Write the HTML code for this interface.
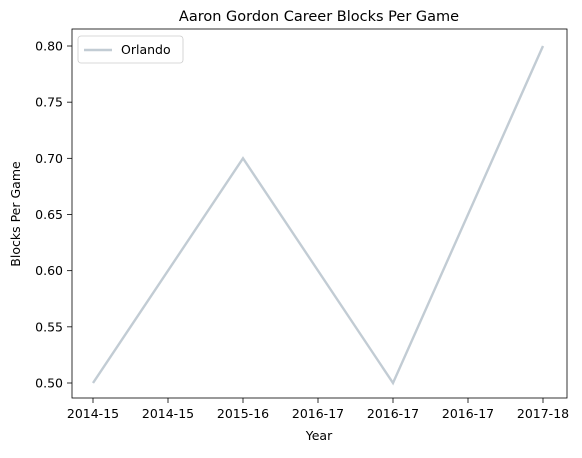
<!DOCTYPE html>
<html><head><meta charset="utf-8"><style>
body{margin:0;background:#fff;font-family:"Liberation Sans","DejaVu Sans",sans-serif;}
svg text{font-family:"DejaVu Sans","Liberation Sans",sans-serif;}
</style></head><body>
<svg id="chart" width="582" height="453" xmlns="http://www.w3.org/2000/svg">
<rect width="582" height="453" fill="#fff"/>
<text x="319" y="21" font-size="14.5" text-anchor="middle">Aaron Gordon Career Blocks Per Game</text>
<g id="ticks"></g>
<polyline id="series" fill="none" stroke="#c2ccd4" stroke-width="2.4"/>
<rect x="72" y="29" width="495" height="369" fill="none" stroke="#000" stroke-width="0.8"/>
<text x="319" y="440" font-size="12.5" text-anchor="middle">Year</text>
<text transform="translate(20,214) rotate(-90)" font-size="12.5" text-anchor="middle">Blocks Per Game</text>
<g>
<rect x="78" y="36" width="105" height="27" rx="3" fill="#fff" stroke="#ccc" stroke-width="0.8"/>
<line x1="84" y1="50" x2="112" y2="50" stroke="#c2ccd4" stroke-width="2.4"/>
<text x="121" y="54" font-size="12.5">Orlando</text>
</g>
</svg>
<script>
const xIndex=[0,1,2,3];
const values=[0.5,0.7,0.5,0.8];
const xTickPos=[0,0.5,1,1.5,2,2.5,3];
const xTickLabels=["2014-15","2014-15","2015-16","2016-17","2016-17","2016-17","2017-18"];
const yTicks=[0.5,0.55,0.6,0.65,0.7,0.75,0.8];
const yTickLabels=["0.50","0.55","0.60","0.65","0.70","0.75","0.80"];
const xs=v=>93+v*150;
const ys=v=>383-(v-0.5)/0.3*337;
const ns="http://www.w3.org/2000/svg";
const g=document.getElementById('ticks');
function mk(t,a){const e=document.createElementNS(ns,t);for(const k in a)e.setAttribute(k,a[k]);return e;}
xTickPos.forEach((p,i)=>{
 const l=mk('line',{x1:xs(p),x2:xs(p),y1:398,y2:403,stroke:'#000','stroke-width':0.8});
 
 
 g.appendChild(l);
 const t=mk('text',{x:xs(p),y:418,'font-size':12.5,'text-anchor':'middle'});
 
 
 t.textContent=xTickLabels[i];g.appendChild(t);
});
yTicks.forEach((v,i)=>{
 const l=mk('line',{x1:67,x2:72,y1:ys(v),y2:ys(v),stroke:'#000','stroke-width':0.8});
 
 
 g.appendChild(l);
 const t=mk('text',{x:63,y:ys(v)+4.5,'font-size':12.5,'text-anchor':'end'});
 
 
 t.textContent=yTickLabels[i];g.appendChild(t);
});
document.getElementById('series').setAttribute('points',xIndex.map((x,i)=>xs(x)+','+ys(values[i])).join(' '));
</script>
</body></html>
